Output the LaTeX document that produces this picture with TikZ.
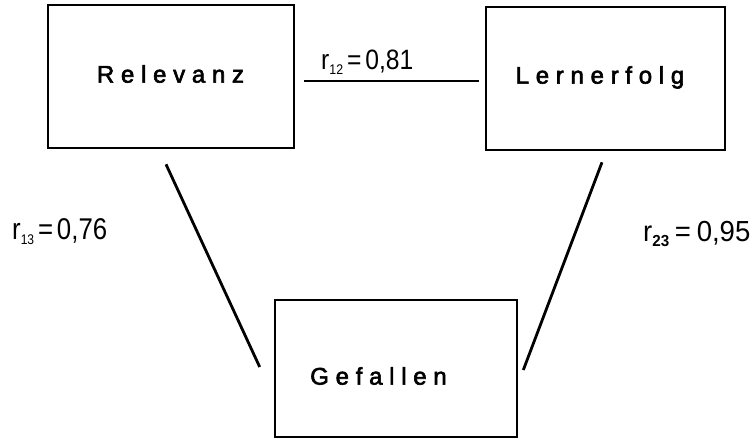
\documentclass[tikz,border=0pt]{standalone}
\usepackage{fontspec}
\setmainfont{Liberation Sans}
\newfontfamily\boxfont[LetterSpace=28, FakeBold=2.5]{Liberation Sans}

% correlation label: r with a subscript index, set condensed
% #1 horizontal scale, #2 font size, #3 index, #4 value, #5 gap round "="
\newcommand\corrlabel[5]{\scalebox{#1}[1]{\fontsize{#2}{#2}\selectfont
  r\raisebox{-5pt}{\fontsize{14}{14}\selectfont #3}\hspace{#5}=\hspace{#5}#4}}

\begin{document}
\begin{tikzpicture}[x=1pt,y=-1pt,
  varbox/.style={draw=black, line width=2.6pt, fill=white, inner sep=0pt},
  boxtext/.style={font=\boxfont\fontsize{24}{24}\selectfont,
                  text height=17.2pt, text depth=0pt, inner sep=0pt},
  link/.style={draw=black, line width=2.8pt},
  corr/.style={inner sep=0pt, anchor=base west}]

  \useasboundingbox (0,0) rectangle (755,438);

  % variable boxes
  \node[varbox, minimum width=246pt, minimum height=143pt,
        label={[boxtext, yshift=2.5pt, xshift=-0.5pt]center:Relevanz}]
        (rel) at (171,76.5) {};
  \node[varbox, minimum width=239pt, minimum height=143pt,
        label={[boxtext, yshift=3.5pt, xshift=-5.5pt]center:Lernerfolg}]
        (ler) at (605.5,78.5) {};
  \node[varbox, minimum width=242pt, minimum height=137pt,
        label={[boxtext, yshift=-7.5pt, xshift=-17.5pt]center:Gefallen}]
        (gef) at (396,368.5) {};

  % correlations
  \draw[link, line width=2.2pt] ([shift={(9,4.5)}]rel.east) -- ([shift={(-6,2.5)}]ler.west);
  \draw[link] ([shift={(-5,15)}]rel.south) -- ([shift={(-14,-1.5)}]gef.west);
  \draw[link] ([shift={(-3.5,11)}]ler.south) -- ([shift={(5,1.5)}]gef.east);

  % correlation coefficients
  \node[corr] (r12) at (321,70) {\corrlabel{0.88}{28}{12}{0,81}{4.5pt}};
  \node[corr] (r13) at (12,240) {\corrlabel{0.86}{30}{13}{0,76}{4.5pt}};
  \node[corr] (r23) at (643,242)
    {\corrlabel{0.95}{29}{\fontsize{16}{16}\selectfont\textbf{23}}{0,95}{6pt}};
\end{tikzpicture}
\end{document}
